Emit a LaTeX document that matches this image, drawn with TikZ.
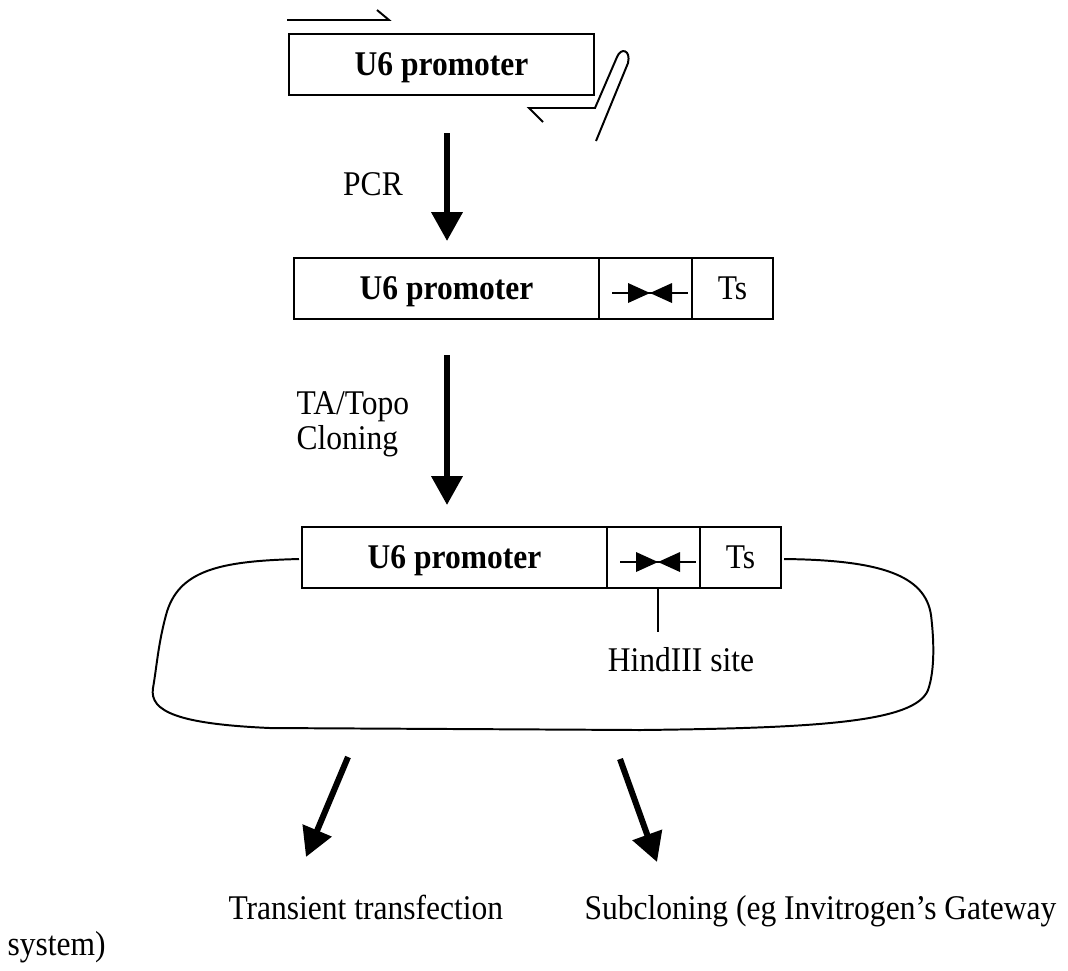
\documentclass[tikz,border=0pt]{standalone}
\usepackage{fontspec}
\setmainfont[FakeStretch=0.91]{Liberation Serif}
\usetikzlibrary{arrows.meta,positioning}

% one pixel of the layout grid
\newcommand{\px}{0.381pt}
\newcommand{\txtfont}{\fontsize{13.2}{13.4}\selectfont}

\tikzset{
  cell/.style={draw, line width=0.8pt, outer sep=0pt, inner sep=0pt,
    minimum height=61*\px, text height=8.7pt, text depth=0pt, font=\txtfont},
  bigarrow/.style={line width=2.3pt, -{Triangle[width=11.5pt,length=11pt]}},
  strand/.style={line width=0.75pt},
  note/.style={font=\txtfont, inner sep=0pt},
}

% inverted repeat mark, drawn round the current origin
\newcommand{\repeatmark}{%
  \draw[strand] (-38,0) -- (38,0);
  \fill (-22,-10) -- (0,0) -- (-22,10) -- cycle;
  \fill (22,-10) -- (0,0) -- (22,10) -- cycle;
}

\begin{document}
\begin{tikzpicture}[x=\px, y=-\px]
	\useasboundingbox (0,0) rectangle (1068,970);

	% Template with the two primers
	\node[cell, minimum width=305*\px] (prom1) at (441.5,64.5) {\textbf{U6 promoter}};

	% forward primer
	\draw[strand] (287,20) -- (389,20) -- (377,10);

	% reverse primer with hairpin tail
	\draw[strand] (543,122) -- (529,108) -- (595,108) -- (617,57)
		.. controls (621,47) and (631,50) .. (628,63) -- (596,141);

	% PCR step
	\coordinate (pcrA) at (447,133);
	\coordinate (pcrB) at (447,241);
	\draw[bigarrow] (pcrA) -- (pcrB);
	\node[note] (pcr) at (373,184) {PCR};

	% PCR product
	\node[cell, minimum width=305*\px] (prom2) at (446.5,288.5) {\textbf{U6 promoter}};
	\node[cell, minimum width=93*\px, right=0pt of prom2] (cut2) {};
	\node[cell, minimum width=81*\px, right=0pt of cut2] (ts2) {Ts};
	\begin{scope}[shift={(cut2.center)}, xshift=4.5*\px, yshift=-4.5*\px]
		\repeatmark
	\end{scope}

	% Cloning step
	\coordinate (taA) at (447,355);
	\coordinate (taB) at (447,505);
	\draw[bigarrow] (taA) -- (taB);
	\node[note, anchor=west, align=left] (ta) at (296,424) {TA/Topo\\Cloning};

	% Plasmid
	\node[cell, minimum width=305*\px] (prom3) at (454.5,557.5) {\textbf{U6 promoter}};
	\node[cell, minimum width=93*\px, right=0pt of prom3] (cut3) {};
	\node[cell, minimum width=81*\px, right=0pt of cut3] (ts3) {Ts};
	\begin{scope}[shift={(cut3.center)}, xshift=4.5*\px, yshift=-4.5*\px]
		\repeatmark
	\end{scope}

	% backbone
	\coordinate (bbL) at (299,559);
	\coordinate (bbR) at (784,559);
	\draw[strand] (bbL) .. controls (220,561) and (178,570) .. (166,615)
		.. controls (158,645) and (157,665) .. (153,688)
		.. controls (149,712) and (180,724) .. (270,728)
		-- (640,730)
		.. controls (820,728) and (915,722) .. (928,690)
		.. controls (935,670) and (934,640) .. (931,615)
		.. controls (925,575) and (880,560) .. (bbR);

	% HindIII site
	\node[note] (hind) at (681,660) {HindIII site};
	\coordinate (tick) at (658,632);
	\draw[strand] (cut3.south -| tick) -- (tick);

	% Uses
	\coordinate (useL) at (348,757);
	\coordinate (useLtip) at (306,857);
	\coordinate (useR) at (620,759);
	\coordinate (useRtip) at (657,862);
	\draw[bigarrow] (useL) -- (useLtip);
	\draw[bigarrow] (useR) -- (useRtip);

	\node[note, anchor=base west] (trans) at (228,919) {Transient transfection};
	\node[note, anchor=base west] (sub) at (584,919) {Subcloning (eg Invitrogen’s Gateway};
	\node[note, anchor=base west] (sys) at (7,955) {system)};
\end{tikzpicture}
\end{document}
